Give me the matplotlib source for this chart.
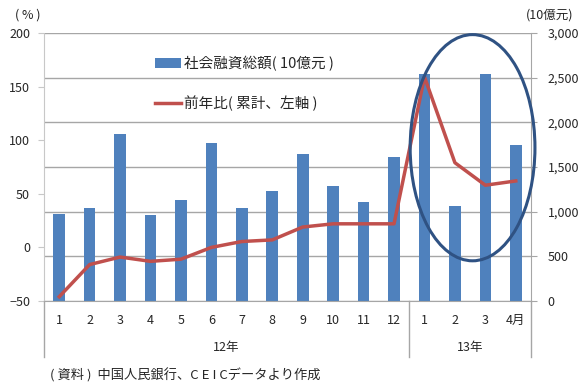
import matplotlib
matplotlib.use("Agg")
import matplotlib.pyplot as plt
from matplotlib.patches import Ellipse, Patch
from matplotlib.lines import Line2D
from matplotlib.ticker import FuncFormatter
import matplotlib.transforms as mtransforms

plt.rcParams['font.family'] = ['Noto Sans CJK JP', 'DejaVu Sans']

# データ(2012年1月~2013年4月)
months = ['1', '2', '3', '4', '5', '6', '7', '8', '9', '10', '11', '12', '1', '2', '3', '4月']
shakai = [970, 1040, 1870, 960, 1130, 1770, 1040, 1235, 1645, 1285, 1110, 1615, 2540, 1065, 2540, 1745]  # 10億元
yoy = [-46, -16, -9, -13, -11, 0, 5.5, 7, 19, 22, 22, 22, 159, 79, 58, 62]  # %
years = ['12年', '13年']

bar_c = '#4F81BD'
line_c = '#C0504D'
grid_c = '#A6A6A6'
txt_c = '#262626'

fig = plt.figure(figsize=(5.8, 3.83), dpi=100)
ax = fig.add_axes([44/580, 1-301/383, 487/580, 268/383])
ax2 = ax.twinx()
ax.set_zorder(ax2.get_zorder() + 1)
ax.patch.set_visible(False)

x = list(range(len(months)))

# 棒グラフ(右軸)
ax2.bar(x, shakai, width=0.38, color=bar_c, zorder=3)
ax2.set_ylim(0, 3000)
ax2.set_yticks(range(0, 3001, 500))
ax2.yaxis.set_major_formatter(FuncFormatter(lambda v, p: format(int(v), ',')))
ax2.grid(axis='y', color=grid_c, lw=1.0, zorder=0)
ax2.set_axisbelow(True)

# 折れ線(左軸)
ax.plot(x, yoy, color=line_c, lw=2.5, solid_joinstyle='round', zorder=5)
ax.set_ylim(-50, 200)
ax.set_yticks(range(-50, 201, 50))
ax.set_xlim(-0.5, 15.5)
ax.set_xticks(x)
ax.set_xticklabels(months)

for a in (ax, ax2):
    for s in a.spines.values():
        s.set_visible(False)
ax2.spines['right'].set_visible(True)
ax2.spines['right'].set_color(grid_c)
ax.spines['left'].set_visible(True)
ax.spines['left'].set_color('#C8C8C8')
ax.spines['left'].set_linestyle((0, (1, 1)))
ax.spines['bottom'].set_visible(True)
ax.spines['bottom'].set_color(grid_c)

ax.tick_params(axis='y', labelsize=9, length=4, color='#C8C8C8', pad=6, labelcolor=txt_c)
ax.tick_params(axis='x', labelsize=9, length=0, pad=9, labelcolor=txt_c)
ax2.tick_params(axis='y', labelsize=9, length=4, color=grid_c, pad=8, labelcolor=txt_c)

# 年の区切り
trans = mtransforms.blended_transform_factory(ax.transData, ax.transAxes)
for xs in (-0.5, 11.5, 15.5):
    ax.plot([xs, xs], [0, -56/268], transform=trans, color=grid_c, lw=1.0, clip_on=False)
ax.text(5.5, -46/268, years[0], transform=trans, ha='center', va='center', fontsize=9, color=txt_c)
ax.text(13.5, -46/268, years[1], transform=trans, ha='center', va='center', fontsize=9, color=txt_c)

# 強調の楕円
ell = Ellipse((13.58, 93), 4.1, 211, fill=False, ec='#2F5283', lw=2.2, clip_on=False, zorder=6)
ax.add_patch(ell)

# 凡例
handles = [Patch(facecolor=bar_c, edgecolor='none'),
           Line2D([0], [0], color=line_c, lw=2.5)]
labels = ['社会融資総額( 10億元 )', '前年比( 累計、左軸 )']
ax.legend(handles, labels, loc='upper left', bbox_to_anchor=(0.2, 0.965), frameon=False,
          fontsize=10.5, labelspacing=1.7, handlelength=1.8, handleheight=0.7, handletextpad=0.2,
          labelcolor=txt_c)

fig.text(15/580, 1-15/383, '( % )', fontsize=9, va='center', color=txt_c)
fig.text(573/580, 1-15/383, '(10億元)', fontsize=9, va='center', ha='right', color=txt_c)
fig.text(50/580, 1-375/383, '( 資料 )  中国人民銀行、C E I Cデータより作成', fontsize=9.5, va='center', color=txt_c)

fig.savefig('out.png', dpi=100)
